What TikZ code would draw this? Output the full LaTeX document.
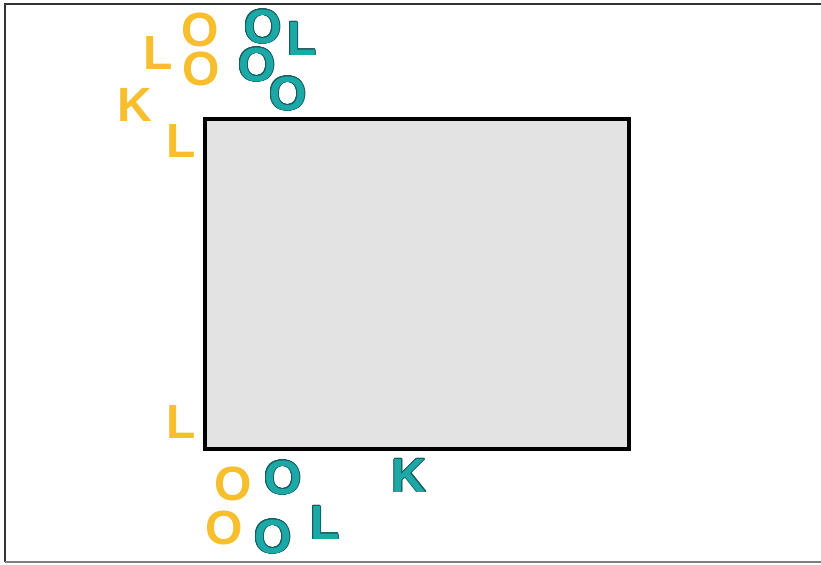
\documentclass[tikz,border=0pt]{standalone}
\usepackage{fontspec}
\setmainfont{Liberation Sans}
\usepackage{tikz}
\usepackage{contour}
\contourlength{0.6pt}
\usepackage{xcolor}
\definecolor{lkyellow}{HTML}{F7BE2E}
\definecolor{lkteal}{HTML}{1BA8A6}
\definecolor{lkedge}{HTML}{175C5C}
\definecolor{lkbox}{HTML}{E3E3E3}
\newcommand{\tealletter}[1]{\contour{lkedge}{#1}}

\begin{document}
\begin{tikzpicture}[font=\bfseries\fontsize{41}{41}\selectfont,
    yel/.style={text=lkyellow, inner sep=0pt},
    tea/.style={text=lkteal, inner sep=0pt}]
    \useasboundingbox (0,0) rectangle (24.63,16.92);
    % frame
    \draw[black!80, line width=2.2pt] (24.63,16.8) -- (0.15,16.8) -- (0.15,0.06);
    \draw[black!50, line width=2.2pt] (0.15,0.06) -- (24.63,0.06);
    % grey box
    \filldraw[fill=lkbox, draw=black, line width=3.2pt] (6.15,3.45) rectangle (18.87,13.35);
    % yellow letters
    \node[yel] (yo1) at (6.00,16.02) {O};
    \node[yel] (yl1) at (4.74,15.33) {L};
    \node[yel] (yo2) at (6.03,14.85) {O};
    \node[yel] (yk) at (4.05,13.77) {K};
    \node[yel] (yl2) at (5.43,12.69) {L};
    \node[yel] (yl3) at (5.43,4.26) {L};
    \node[yel] (yo3) at (6.99,2.40) {O};
    \node[yel] (yo4) at (6.72,1.08) {O};
    % teal letters
    \node[tea] (to1) at (7.89,16.11) {\tealletter{O}};
    \node[tea] (tl1) at (9.06,15.75) {\tealletter{L}};
    \node[tea] (to2) at (7.71,14.97) {\tealletter{O}};
    \node[tea] (to3) at (8.64,14.10) {\tealletter{O}};
    \node[tea] (to4) at (8.49,2.58) {\tealletter{O}};
    \node[tea] (tk) at (12.27,2.64) {\tealletter{K}};
    \node[tea] (to5) at (8.19,0.81) {\tealletter{O}};
    \node[tea] (tl2) at (9.75,1.23) {\tealletter{L}};
\end{tikzpicture}
\end{document}
